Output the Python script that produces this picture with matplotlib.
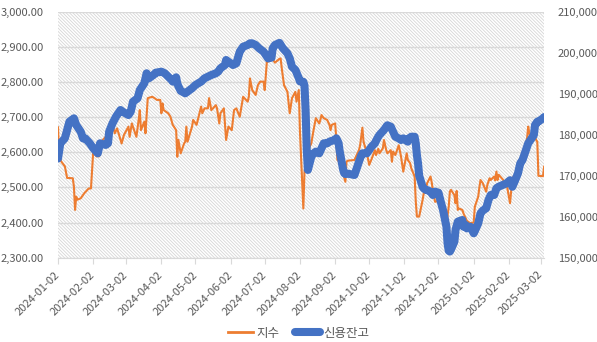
import matplotlib
matplotlib.use("Agg")
import matplotlib.pyplot as plt
import matplotlib.dates as mdates
import pandas as pd
from matplotlib.patches import Rectangle
from matplotlib.lines import Line2D
from matplotlib.ticker import FuncFormatter, MultipleLocator

plt.rcParams['font.family'] = ['Noto Sans CJK KR', 'DejaVu Sans']
plt.rcParams['hatch.linewidth'] = 0.6

# 지수 (left axis)
idx_dates = [
    '2024-01-02', '2024-01-03', '2024-01-05', '2024-01-08', '2024-01-10', '2024-01-15', '2024-01-16',
    '2024-01-17', '2024-01-18', '2024-01-19', '2024-01-22', '2024-01-25', '2024-01-29', '2024-01-31',
    '2024-02-02', '2024-02-05', '2024-02-06', '2024-02-07', '2024-02-09', '2024-02-13', '2024-02-15',
    '2024-02-19', '2024-02-21', '2024-02-23', '2024-02-27', '2024-02-29', '2024-03-04', '2024-03-05',
    '2024-03-07', '2024-03-11', '2024-03-13', '2024-03-14', '2024-03-15', '2024-03-18', '2024-03-19',
    '2024-03-21', '2024-03-25', '2024-03-27', '2024-03-29', '2024-04-01', '2024-04-02', '2024-04-03',
    '2024-04-04', '2024-04-08', '2024-04-10', '2024-04-12', '2024-04-15', '2024-04-16', '2024-04-17',
    '2024-04-19', '2024-04-22', '2024-04-23', '2024-04-24', '2024-04-25', '2024-04-29', '2024-04-30',
    '2024-05-03', '2024-05-07', '2024-05-08', '2024-05-10', '2024-05-13', '2024-05-14', '2024-05-16',
    '2024-05-20', '2024-05-21', '2024-05-23', '2024-05-24', '2024-05-27', '2024-05-29', '2024-05-31',
    '2024-06-03', '2024-06-05', '2024-06-07', '2024-06-10', '2024-06-13', '2024-06-17', '2024-06-18',
    '2024-06-19', '2024-06-21', '2024-06-24', '2024-06-26', '2024-06-28', '2024-07-01', '2024-07-02',
    '2024-07-04', '2024-07-05', '2024-07-09', '2024-07-11', '2024-07-15', '2024-07-16', '2024-07-17',
    '2024-07-19', '2024-07-22', '2024-07-24', '2024-07-26', '2024-07-29', '2024-07-30', '2024-08-01',
    '2024-08-02', '2024-08-05', '2024-08-06', '2024-08-08', '2024-08-09', '2024-08-12', '2024-08-14',
    '2024-08-16', '2024-08-19', '2024-08-20', '2024-08-21', '2024-08-23', '2024-08-26', '2024-08-28',
    '2024-08-29', '2024-08-30', '2024-09-02', '2024-09-03', '2024-09-04', '2024-09-05', '2024-09-09',
    '2024-09-11', '2024-09-12', '2024-09-13', '2024-09-19', '2024-09-20', '2024-09-23', '2024-09-24',
    '2024-09-26', '2024-09-27', '2024-09-30', '2024-10-02', '2024-10-04', '2024-10-07', '2024-10-08',
    '2024-10-10', '2024-10-11', '2024-10-14', '2024-10-15', '2024-10-17', '2024-10-18', '2024-10-21',
    '2024-10-22', '2024-10-23', '2024-10-25', '2024-10-28', '2024-10-30', '2024-11-01', '2024-11-04',
    '2024-11-05', '2024-11-07', '2024-11-08', '2024-11-11', '2024-11-12', '2024-11-13', '2024-11-15',
    '2024-11-18', '2024-11-19', '2024-11-21', '2024-11-22', '2024-11-25', '2024-11-26', '2024-11-27',
    '2024-11-29', '2024-12-02', '2024-12-03', '2024-12-04', '2024-12-05', '2024-12-06', '2024-12-09',
    '2024-12-10', '2024-12-11', '2024-12-12', '2024-12-13', '2024-12-16', '2024-12-17', '2024-12-18',
    '2024-12-19', '2024-12-20', '2024-12-23', '2024-12-24', '2024-12-26', '2024-12-27', '2024-12-30',
    '2025-01-02', '2025-01-03', '2025-01-06', '2025-01-07', '2025-01-08', '2025-01-10', '2025-01-13',
    '2025-01-14', '2025-01-16', '2025-01-17', '2025-01-20', '2025-01-21', '2025-01-22', '2025-01-23',
    '2025-01-24', '2025-01-31', '2025-02-03', '2025-02-04', '2025-02-05', '2025-02-06', '2025-02-07',
    '2025-02-10', '2025-02-11', '2025-02-12', '2025-02-13', '2025-02-14', '2025-02-17', '2025-02-18',
    '2025-02-19', '2025-02-20', '2025-02-21', '2025-02-24', '2025-02-25', '2025-02-26', '2025-02-27',
    '2025-02-28', '2025-03-04', '2025-03-05',
]
idx_values = [
    2671, 2585, 2573, 2560, 2527, 2526, 2502,
    2436, 2474, 2465, 2469, 2483, 2497, 2497,
    2602, 2588, 2606, 2588, 2630, 2644, 2616,
    2678, 2654, 2668, 2625, 2649, 2673, 2644,
    2682, 2644, 2692, 2720, 2663, 2687, 2654,
    2754, 2758, 2754, 2749, 2749, 2711, 2739,
    2720, 2711, 2701, 2678, 2663, 2587, 2635,
    2597, 2625, 2630, 2673, 2630, 2673, 2692,
    2678, 2730, 2711, 2725, 2725, 2754, 2720,
    2734, 2725, 2682, 2711, 2725, 2635, 2673,
    2663, 2720, 2725, 2701, 2758, 2744, 2758,
    2810, 2777, 2763, 2791, 2801, 2801, 2777,
    2863, 2858, 2865, 2855, 2866, 2867, 2839,
    2791, 2772, 2711, 2754, 2772, 2744, 2777,
    2660, 2440, 2545, 2578, 2606, 2625, 2663,
    2697, 2682, 2692, 2706, 2697, 2692, 2678,
    2663, 2678, 2682, 2640, 2578, 2575, 2540,
    2516, 2573, 2576, 2578, 2585, 2606, 2620,
    2670, 2630, 2597, 2564, 2580, 2606, 2592,
    2610, 2597, 2611, 2635, 2606, 2597, 2606,
    2573, 2602, 2592, 2620, 2588, 2545, 2597,
    2578, 2569, 2555, 2531, 2460, 2417, 2417,
    2464, 2483, 2495, 2512, 2531, 2515, 2493,
    2459, 2462, 2493, 2455, 2440, 2417, 2360,
    2420, 2445, 2488, 2493, 2478, 2455, 2490,
    2436, 2440, 2436, 2426, 2412, 2405, 2398,
    2400, 2445, 2474, 2500, 2521, 2512, 2488,
    2507, 2526, 2521, 2531, 2520, 2545, 2521,
    2536, 2510, 2455, 2490, 2515, 2531, 2521,
    2521, 2550, 2560, 2578, 2590, 2625, 2640,
    2673, 2654, 2644, 2649, 2645, 2635, 2630,
    2533, 2532, 2559,
]

# 신용잔고 (right axis)
crd_dates = [
    '2024-01-02', '2024-01-04', '2024-01-08', '2024-01-10', '2024-01-12', '2024-01-16', '2024-01-18',
    '2024-01-22', '2024-01-24', '2024-01-26', '2024-01-30', '2024-02-02', '2024-02-06', '2024-02-08',
    '2024-02-13', '2024-02-15', '2024-02-16', '2024-02-19', '2024-02-22', '2024-02-26', '2024-02-28',
    '2024-03-04', '2024-03-06', '2024-03-08', '2024-03-12', '2024-03-14', '2024-03-18', '2024-03-20',
    '2024-03-22', '2024-03-26', '2024-03-28', '2024-04-02', '2024-04-05', '2024-04-08', '2024-04-11',
    '2024-04-12', '2024-04-15', '2024-04-16', '2024-04-17', '2024-04-19', '2024-04-23', '2024-04-25',
    '2024-04-29', '2024-05-02', '2024-05-07', '2024-05-10', '2024-05-13', '2024-05-16', '2024-05-20',
    '2024-05-22', '2024-05-24', '2024-05-28', '2024-05-29', '2024-05-31', '2024-06-04', '2024-06-07',
    '2024-06-10', '2024-06-13', '2024-06-17', '2024-06-19', '2024-06-21', '2024-06-24', '2024-06-27',
    '2024-07-01', '2024-07-03', '2024-07-05', '2024-07-08', '2024-07-09', '2024-07-11', '2024-07-15',
    '2024-07-18', '2024-07-22', '2024-07-24', '2024-07-26', '2024-07-29', '2024-07-31', '2024-08-01',
    '2024-08-02', '2024-08-05', '2024-08-06', '2024-08-07', '2024-08-08', '2024-08-09', '2024-08-12',
    '2024-08-14', '2024-08-16', '2024-08-19', '2024-08-21', '2024-08-23', '2024-08-26', '2024-08-28',
    '2024-08-30', '2024-09-02', '2024-09-03', '2024-09-05', '2024-09-06', '2024-09-09', '2024-09-10',
    '2024-09-11', '2024-09-13', '2024-09-19', '2024-09-20', '2024-09-23', '2024-09-25', '2024-09-26',
    '2024-09-30', '2024-10-02', '2024-10-04', '2024-10-07', '2024-10-08', '2024-10-10', '2024-10-11',
    '2024-10-15', '2024-10-17', '2024-10-18', '2024-10-21', '2024-10-23', '2024-10-25', '2024-10-28',
    '2024-10-30', '2024-11-01', '2024-11-05', '2024-11-06', '2024-11-08', '2024-11-11', '2024-11-12',
    '2024-11-13', '2024-11-14', '2024-11-15', '2024-11-18', '2024-11-19', '2024-11-21', '2024-11-22',
    '2024-11-25', '2024-11-27', '2024-11-29', '2024-12-02', '2024-12-04', '2024-12-06', '2024-12-09',
    '2024-12-10', '2024-12-11', '2024-12-12', '2024-12-13', '2024-12-16', '2024-12-17', '2024-12-19',
    '2024-12-20', '2024-12-23', '2024-12-24', '2024-12-26', '2024-12-27', '2024-12-30', '2025-01-02',
    '2025-01-03', '2025-01-06', '2025-01-08', '2025-01-10', '2025-01-13', '2025-01-15', '2025-01-17',
    '2025-01-20', '2025-01-22', '2025-01-24', '2025-01-31', '2025-02-03', '2025-02-04', '2025-02-05',
    '2025-02-07', '2025-02-10', '2025-02-12', '2025-02-14', '2025-02-17', '2025-02-19', '2025-02-21',
    '2025-02-24', '2025-02-25', '2025-02-27', '2025-02-28', '2025-03-04', '2025-03-05',
]
crd_values = [
    174200, 177900, 179100, 181150, 183170, 184000, 182370,
    180730, 179100, 179100, 177900, 176680, 175460, 177900,
    177500, 177900, 180730, 182780, 184390, 186020, 185600,
    184800, 185600, 188050, 188870, 190900, 192540, 194980,
    193760, 194560, 195120, 195370, 194980, 194150, 193340,
    192950, 194000, 192500, 191800, 190700, 190090, 190500,
    191320, 192120, 192950, 193760, 194150, 194560, 194980,
    195370, 196190, 197000, 198220, 197800, 197000, 197410,
    200240, 201460, 201880, 202290, 202290, 201880, 201070,
    200240, 199440, 198600, 198800, 201070, 201880, 202400,
    201070, 199850, 198630, 196590, 195800, 194500, 193800,
    193000, 192900, 192000, 186000, 176300, 171400, 174600,
    175460, 175870, 175460, 176680, 177900, 177900, 178300,
    178500, 178710, 179120, 178000, 176000, 171500, 170600,
    170400, 170500, 170170, 171000, 173420, 175000, 175460,
    175460, 176270, 177070, 177900, 178500, 179510, 179930,
    181150, 181950, 182300, 181950, 180730, 179510, 179100,
    178710, 179100, 178300, 179100, 179510, 179500, 177900,
    175000, 173020, 170000, 167300, 166900, 166520, 166500,
    166100, 165290, 166100, 165850, 163660, 161630, 157560,
    153500, 151700, 151500, 152000, 153910, 156760, 158790,
    158900, 159200, 157560, 157970, 157150, 157560, 155950,
    156500, 158380, 160830, 161500, 162050, 164070, 165290,
    165290, 166930, 167320, 168150, 168900, 168500, 167300,
    168540, 170590, 173020, 173830, 176270, 177900, 178710,
    179930, 182370, 183170, 183200, 184000, 184300,
]

ORANGE = '#ED7D31'
BLUE = '#4472C4'
GRID = '#D9D9D9'
TEXT = '#595959'


def draw_chart():
    fig = plt.figure(figsize=(5.97, 3.42), dpi=100)
    ax = fig.add_axes([0.0972, 0.2465, 0.8142, 0.7193])

    # hatched plot area
    bg = Rectangle((0, 0), 1, 1, transform=ax.transAxes, facecolor='white',
                   edgecolor='#D6D6D6', hatch='\\' * 10, lw=0, zorder=0)
    ax.add_patch(bg)

    x_idx = pd.to_datetime(idx_dates)
    x_crd = pd.to_datetime(crd_dates)

    ax.plot(x_idx, idx_values, color=ORANGE, lw=1.5, zorder=3)
    ax.set_ylim(2300, 3000)
    ax.yaxis.set_major_locator(MultipleLocator(100))
    ax.yaxis.set_major_formatter(FuncFormatter(lambda v, p: f'{v:,.2f}'))
    ax.set_xlim(pd.Timestamp('2024-01-02'), pd.Timestamp('2025-03-05'))

    ax.set_axisbelow(True)
    ax.yaxis.grid(True, color=GRID, lw=1.0)
    for s in ['top', 'left', 'right']:
        ax.spines[s].set_visible(False)
    ax.spines['bottom'].set_color(GRID)

    ax.xaxis.set_major_locator(mdates.MonthLocator(bymonthday=2))
    ax.xaxis.set_major_formatter(mdates.DateFormatter('%Y-%m-%d'))
    ax.tick_params(axis='x', colors=GRID, length=4, pad=7, labelcolor=TEXT, labelsize=8)
    ax.tick_params(axis='y', length=0, pad=10, labelcolor=TEXT, labelsize=8)
    for lbl in ax.get_xticklabels():
        lbl.set_rotation(45)
        lbl.set_ha('right')
        lbl.set_va('center')
        lbl.set_rotation_mode('anchor')

    ax2 = ax.twinx()
    ax2.plot(x_crd, crd_values, color=BLUE, lw=5.8, zorder=4,
             solid_capstyle='round', solid_joinstyle='round')
    ax2.set_ylim(150000, 210000)
    ax2.yaxis.set_major_locator(MultipleLocator(10000))
    ax2.yaxis.set_major_formatter(FuncFormatter(lambda v, p: f'{v:,.0f}'))
    ax2.tick_params(axis='y', length=0, pad=10, labelcolor=TEXT, labelsize=8)
    for s in ax2.spines.values():
        s.set_visible(False)

    handles = [
        Line2D([], [], color=ORANGE, lw=2.0),
        Line2D([], [], color=BLUE, lw=5.8, solid_capstyle='round'),
    ]
    leg = fig.legend(handles, ['지수', '신용잔고'], loc='center', ncol=2,
                     bbox_to_anchor=(0.5, 1 - 333 / 342), frameon=False,
                     fontsize=9, handlelength=2.0, handletextpad=0.3, columnspacing=1.2)
    for t in leg.get_texts():
        t.set_color(TEXT)

    fig.savefig('out.png', dpi=100)


def main():
    draw_chart()


if __name__ == '__main__':
    main()
